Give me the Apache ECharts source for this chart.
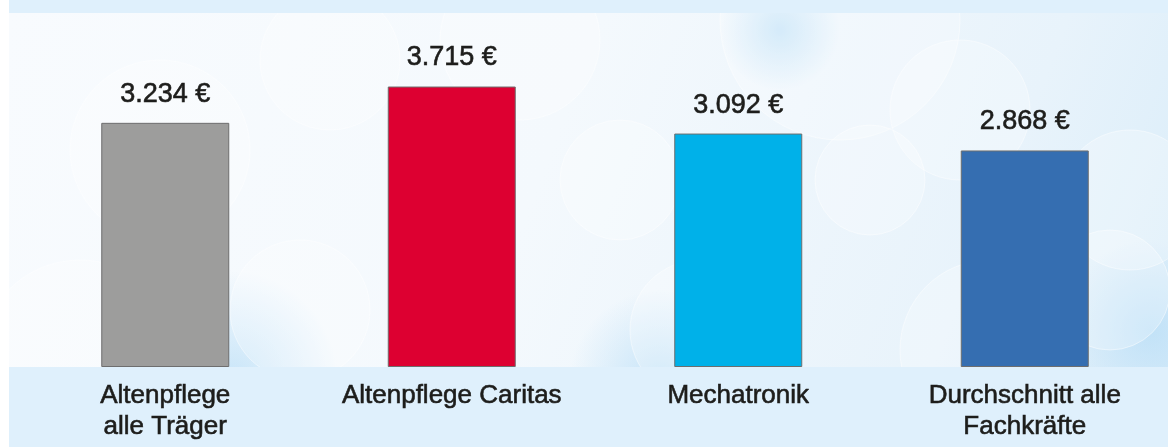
<!DOCTYPE html>
<html>
<head>
<meta charset="utf-8">
<script src="https://cdn.jsdelivr.net/npm/echarts@6/dist/echarts.min.js"></script>
<style>
  html, body { margin: 0; padding: 0; background: #ffffff; }
  #main { width: 1168px; height: 447px; }
</style>
</head>
<body>
<div id="main"></div>
<script>
// Daten
var categories = ['Altenpflege\nalle Träger', 'Altenpflege Caritas', 'Mechatronik', 'Durchschnitt alle\nFachkräfte'];
var values = [3234, 3715, 3092, 2868];
var barColors = ['#9d9d9c', '#dd0031', '#00b1e9', '#356eb1'];

var myChart = echarts.init(document.getElementById('main'));

// Hintergrund: Bänder oben/unten, heller Verlauf mit Kreisen dazwischen
var bubbles = [
  [160, 150, 90], [330, 60, 70], [520, 40, 80], [840, 20, 120], [960, 110, 70],
  [870, 180, 55], [1130, 200, 70], [1110, 290, 60], [700, 330, 70], [990, 350, 90],
  [300, 310, 70], [80, 360, 100], [620, 180, 60]
];
var bg = [
  { type: 'rect', shape: { x: 9, y: 0, width: 1159, height: 447 },
    style: { fill: new echarts.graphic.LinearGradient(0, 0, 1, 1, [
      { offset: 0, color: '#f8fbfe' },
      { offset: 0.45, color: '#f4f9fd' },
      { offset: 0.8, color: '#e8f3fb' },
      { offset: 1, color: '#d8ecf9' }
    ]) }, z: -10 }
];
// bläuliche Schimmer
[[230, 380, 110], [660, 380, 90], [1150, 330, 90], [780, 30, 60]].forEach(function (g) {
  bg.push({ type: 'circle', shape: { cx: g[0], cy: g[1], r: g[2] },
    style: { fill: new echarts.graphic.RadialGradient(0.5, 0.5, 0.5, [
      { offset: 0, color: 'rgba(185,222,247,0.75)' }, { offset: 1, color: 'rgba(185,222,247,0)' }
    ]) }, z: -9 });
});
bubbles.forEach(function (b) {
  bg.push({ type: 'circle', shape: { cx: b[0], cy: b[1], r: b[2] },
    style: { fill: 'rgba(255,255,255,0.25)', stroke: 'rgba(255,255,255,0.45)', lineWidth: 1 }, z: -8 });
});
bg.push({ type: 'rect', shape: { x: 9, y: 0, width: 1159, height: 13 }, style: { fill: '#dff0fc' }, z: -5 });
bg.push({ type: 'rect', shape: { x: 9, y: 367, width: 1159, height: 80 }, style: { fill: '#dff0fc' }, z: -5 });

var textFont = 'Liberation Sans, Arial, sans-serif';

var option = {
  animation: false,
  graphic: bg,
  grid: { left: 22, right: -3, top: 65, bottom: 80 },
  xAxis: {
    type: 'category',
    data: categories,
    axisLine: { show: false },
    axisTick: { show: false },
    axisLabel: {
      interval: 0,
      margin: 13,
      color: '#1d1d1b',
      fontFamily: textFont,
      fontSize: 26,
      lineHeight: 31,
      textBorderColor: '#1d1d1b',
      textBorderWidth: 0.6
    }
  },
  yAxis: {
    type: 'value',
    min: 0,
    max: 4000,
    show: false
  },
  series: [{
    type: 'bar',
    barWidth: 128,
    data: values.map(function (v, i) {
      return { value: v, itemStyle: { color: barColors[i] } };
    }),
    itemStyle: { borderColor: '#6e6e6e', borderWidth: 1 },
    label: {
      show: true,
      position: 'top',
      distance: 15,
      color: '#1d1d1b',
      fontFamily: textFont,
      fontSize: 27,
      textBorderColor: '#1d1d1b',
      textBorderWidth: 0.6,
      formatter: function (p) {
        return String(p.value).replace(/(\d)(\d{3})$/, '$1.$2') + ' €';
      }
    }
  }]
};

myChart.setOption(option);
</script>
</body>
</html>
